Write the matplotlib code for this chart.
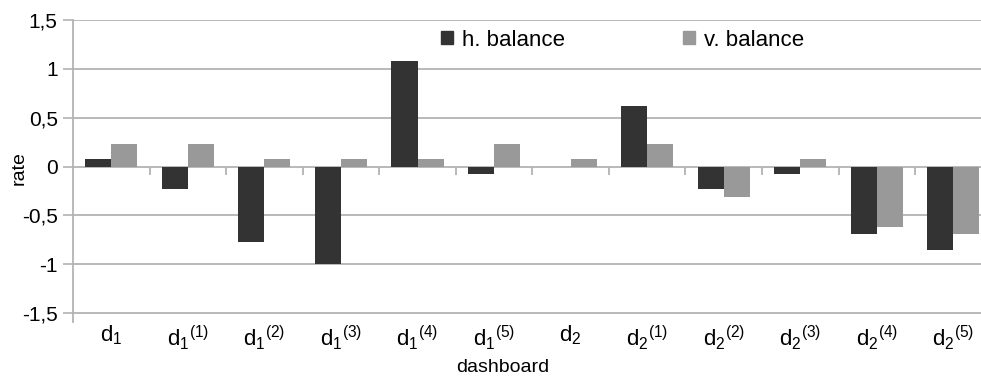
import matplotlib
matplotlib.use("Agg")
import matplotlib.pyplot as plt
from matplotlib.patches import Patch
import numpy as np

plt.rcParams['font.family'] = ['Liberation Sans', 'DejaVu Sans']
plt.rcParams['mathtext.fontset'] = 'custom'
plt.rcParams['mathtext.rm'] = 'Liberation Sans'
plt.rcParams['mathtext.it'] = 'Liberation Sans'

# data
categories = [r'$\mathregular{d_1}$', r'$\mathregular{d_1{}^{(1)}}$', r'$\mathregular{d_1{}^{(2)}}$',
              r'$\mathregular{d_1{}^{(3)}}$', r'$\mathregular{d_1{}^{(4)}}$', r'$\mathregular{d_1{}^{(5)}}$',
              r'$\mathregular{d_2}$', r'$\mathregular{d_2{}^{(1)}}$', r'$\mathregular{d_2{}^{(2)}}$',
              r'$\mathregular{d_2{}^{(3)}}$', r'$\mathregular{d_2{}^{(4)}}$', r'$\mathregular{d_2{}^{(5)}}$']
h_balance = [0.08, -0.23, -0.77, -1.0, 1.08, -0.08, 0.0, 0.62, -0.23, -0.08, -0.69, -0.85]
v_balance = [0.23, 0.23, 0.08, 0.08, 0.08, 0.23, 0.08, 0.23, -0.31, 0.08, -0.62, -0.69]
y_ticks = [-1.5, -1, -0.5, 0, 0.5, 1, 1.5]
y_labels = ['-1,5', '-1', '-0,5', '0', '0,5', '1', '1,5']

dark = '#333333'
light = '#999999'
grid = '#b3b3b3'

fig = plt.figure(figsize=(9.81, 3.77), dpi=100)
ax = fig.add_axes([73 / 981, 1 - 322 / 377, 1 - 73 / 981, (322 - 20) / 377])

x = np.arange(len(categories))
w = 0.34
ax.bar(x - w / 2, h_balance, w, color=dark, zorder=3)
ax.bar(x + w / 2, v_balance, w, color=light, zorder=3)

# plot clipped on the right like the original
ax.set_xlim(-0.5, 11.36)
ax.set_ylim(-1.592, 1.5)
ax.set_yticks(y_ticks)
ax.set_yticklabels(y_labels, fontsize=15)
ax.set_xticks(x)
ax.set_xticklabels(categories, fontsize=16)
ax.tick_params(axis='x', length=0, pad=1)
ax.tick_params(axis='y', length=7, color=grid, width=1.2, pad=4)

for yv in y_ticks:
    ax.axhline(yv, color=grid, lw=1.3, zorder=1)
# category separators hanging under the zero line
ax.vlines(x[:-1] + 0.5, -0.092, 0, color=grid, lw=1.3, zorder=1)

for s in ['top', 'right', 'bottom']:
    ax.spines[s].set_visible(False)
ax.spines['left'].set_color(grid)
ax.spines['left'].set_linewidth(1.3)

fig.text(19 / 981, 1 - 168 / 377, 'rate', rotation=90, fontsize=14, ha='center', va='center')
fig.text(503 / 981, 1 - 367 / 377, 'dashboard', fontsize=14, ha='center', va='center')

handles = [Patch(color=dark), Patch(color=light)]
fig.legend(handles, ['h. balance', 'v. balance'], loc='center left',
           bbox_to_anchor=(441 / 981, 1 - 40 / 377), ncol=2, frameon=False,
           fontsize=16, handlelength=0.55, handleheight=0.55, handletextpad=0.4,
           columnspacing=5.3, borderpad=0, borderaxespad=0)

fig.savefig('out.png', dpi=100)
